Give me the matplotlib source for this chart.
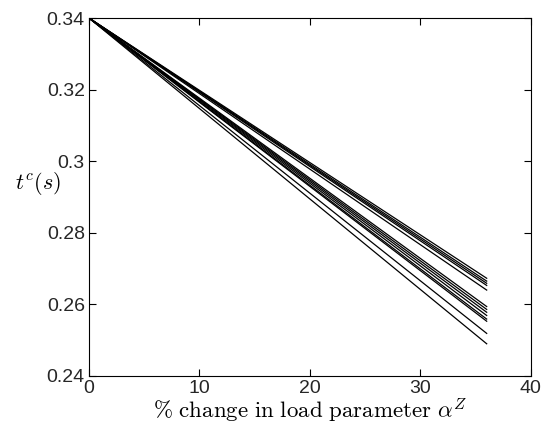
import numpy as np
import matplotlib
matplotlib.use('Agg')
import matplotlib.pyplot as plt

plt.rcParams['font.family'] = ['Liberation Sans', 'DejaVu Sans']
plt.rcParams['mathtext.fontset'] = 'cm'

# load change (%) at start and end of each sweep
x_pts = [0, 36]
t_start = 0.34
# end values of clearing time for each case
t_end = [0.2673, 0.2665, 0.2659, 0.2653, 0.2640,
         0.2594, 0.2586, 0.2578, 0.2569, 0.2559, 0.2553,
         0.2519, 0.2490]

fig = plt.figure(figsize=(5.49, 4.30), dpi=100)
ax = fig.add_axes([0.162, 0.1256, 0.805, 0.8325])

for te in t_end:
    ax.plot(x_pts, [t_start, te], color='black', linewidth=0.9)

ax.set_xlim(0, 40)
ax.set_ylim(0.24, 0.34)
ax.set_xticks([0, 10, 20, 30, 40])
ax.set_yticks([0.24, 0.26, 0.28, 0.3, 0.32, 0.34])
ax.set_yticklabels(['0.24', '0.26', '0.28', '0.3', '0.32', '0.34'])
ax.tick_params(direction='in', top=True, right=True, labelsize=14, length=5, pad=3,
               labelcolor='#262626')
for s in ax.spines.values():
    s.set_linewidth(0.8)

ax.set_xlabel(r'$\%\ \mathrm{change\ in\ load\ parameter}\ \alpha^Z$', fontsize=16.5, labelpad=0)
ax.set_ylabel(r'$t^c(s)$', fontsize=16, rotation=0)
ax.yaxis.set_label_coords(-0.115, 0.5)

plt.savefig('out.png', dpi=100)
